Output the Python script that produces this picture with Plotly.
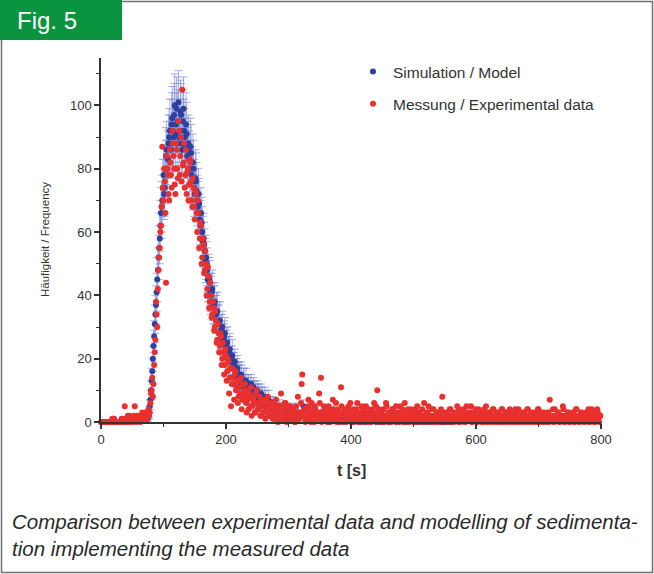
import plotly.graph_objects as go

# ---------------- data ----------------
# Experimental data (red): even-second samples, split into segments
red_t_start = [0, 72, 152, 302, 552]
red_a = [0, 0, 0, 0, 0, 0, 0, 0, 0, 1, 1, 0, 0, 0, 0, 0, 0, 1, 0, 5,
         1, 1, 0, 2, 1, 1, 0, 5, 1, 2, 1, 1, 2, 3, 1, 2]
red_b = [2, 1, 4, 3, 9, 14, 12, 22, 38, 30, 48, 55, 62, 87, 70, 76, 44, 80, 72, 86,
         78, 92, 84, 75, 88, 80, 95, 78, 90, 105, 82, 74, 86, 79, 70, 83, 76, 68, 74, 64]
red_c = [72, 60, 66, 58, 62, 52, 56, 48, 50, 42, 46, 38, 40, 34, 36, 30, 32, 26, 28, 24,
         27, 20, 22, 18, 21, 16, 19, 14, 5, 17, 12, 15, 10, 13, 8, 11, 14, 7, 9, 12,
         6, 10, 4, 8, 11, 5, 7, 3, 9, 6, 4, 8, 2, 6, 5, 3, 7, 4, 2, 6,
         3, 5, 1, 4, 7, 2, 5, 3, 9, 2, 4, 6, 1, 3, 5]
red_d = [3, 1, 4, 2, 0, 5, 2, 3, 1, 6, 15, 2, 4, 1, 3, 7, 2, 0, 4, 2,
         5, 1, 3, 2, 6, 14, 1, 3, 4, 2, 0, 5, 2, 3, 1, 4, 2, 6, 1, 3,
         2, 11, 0, 3, 4, 1, 2, 5, 3, 0, 2, 4, 1, 3, 6, 2, 0, 3, 1, 4,
         2, 5, 1, 3, 0, 2, 4, 1, 3, 5, 10, 2, 0, 3, 1, 4, 2, 6, 1, 3,
         0, 2, 4, 1, 3, 5, 2, 0, 3, 1, 4, 2, 6, 0, 3, 1, 2, 4, 1, 3,
         0, 2, 5, 1, 3, 2, 4, 0, 2, 1, 3, 5, 1, 2, 0, 4, 2, 1, 3, 0,
         2, 4, 8, 1, 3]
red_e = [0, 2, 1, 4, 2, 0, 3, 1, 2, 5, 0, 2, 3, 1, 4, 0, 2, 1, 3, 2,
         5, 0, 1, 3, 2, 0, 4, 1, 2, 3, 0, 1, 5, 2, 0, 3, 1, 2, 4, 0,
         2, 1, 3, 0, 2, 4, 1, 0, 3, 2, 1, 4, 0, 2, 1, 3, 0, 2, 4, 1,
         0, 2, 3, 1, 0, 4, 2, 1, 3, 0, 2, 1, 3, 0, 4, 1, 2, 0, 3, 1,
         2, 0, 3, 7, 1, 2, 0, 4, 1, 2, 3, 0, 1, 2, 4, 0, 2, 1, 3, 0,
         2, 1, 3, 0, 4, 1, 2, 0, 3, 1, 2, 0, 3, 1, 4, 0, 2, 1, 3, 0,
         2, 4, 1, 2]
# Experimental data (red): odd-second samples
red_odd_t_start = [1, 73, 153, 301, 551]
red_odd_a = [0, 0, 0, 0, 0, 0, 0, 0, 0, 0, 1, 0, 0, 0, 0, 0, 1, 0, 0, 1,
             0, 2, 1, 0, 1, 1, 2, 1, 0, 1, 2, 0, 1, 1, 2, 3]
red_odd_b = [1, 3, 2, 6, 10, 8, 18, 26, 34, 42, 52, 60, 68, 74, 80, 66, 84, 78, 70, 82,
             74, 88, 80, 72, 86, 77, 92, 84, 76, 81, 88, 78, 72, 80, 75, 82, 70, 77, 68, 73]
red_odd_c = [66, 70, 55, 63, 50, 58, 47, 54, 40, 49, 36, 44, 33, 38, 29, 35, 25, 31, 22, 28,
             18, 25, 15, 23, 13, 20, 9, 17, 12, 14, 7, 16, 11, 6, 13, 9, 4, 12, 8, 10,
             3, 7, 9, 5, 2, 8, 6, 3, 10, 4, 5, 2, 7, 3, 6, 1, 4, 8, 2, 5,
             3, 1, 6, 2, 4, 0, 3, 5, 1, 4, 2, 6, 0, 3]
red_odd_d = [2, 5, 1, 3, 4, 0, 2, 8, 1, 3, 12, 2, 4, 0, 3, 5, 1, 2, 6, 3,
             0, 4, 2, 1, 9, 3, 0, 2, 5, 1, 3, 2, 4, 0, 1, 7, 2, 3, 0, 4,
             1, 2, 5, 3, 0, 2, 1, 4, 2, 6, 0, 3, 1, 2, 4, 0, 3, 1, 5, 2,
             0, 3, 1, 4, 2, 0, 1, 3, 6, 2, 1, 0, 4, 2, 3, 1, 0, 2, 5, 1,
             3, 0, 2, 4, 1, 2, 0, 3, 1, 5, 2, 0, 1, 3, 2, 4, 0, 1, 3, 2,
             0, 4, 1, 2, 3, 0, 2, 1, 6, 0, 3, 1, 2, 0, 4, 1, 2, 0, 3, 1,
             2, 0, 3, 1, 2]
red_odd_e = [1, 3, 0, 2, 4, 1, 2, 0, 3, 1, 2, 4, 0, 1, 3, 2, 0, 5, 1, 2,
             3, 0, 1, 2, 4, 0, 2, 1, 3, 0, 2, 4, 1, 0, 3, 2, 1, 0, 4, 2,
             1, 3, 0, 2, 1, 4, 0, 2, 3, 1, 0, 2, 1, 3, 0, 2, 4, 1, 0, 3,
             2, 1, 0, 3, 2, 1, 4, 0, 2, 1, 3, 0, 2, 1, 4, 0, 2, 3, 1, 0,
             2, 1, 3, 0, 2, 1, 4, 0, 2, 1, 3, 0, 1, 2, 5, 0, 2, 1, 3, 0,
             2, 1, 3, 0, 2, 4, 1, 0, 2, 3, 1, 0, 2, 1, 3, 0, 2, 4, 1, 0,
             2, 1, 3, 0, 2]
red_segments = [red_a, red_b, red_c, red_d, red_e]
red_odd_segments = [red_odd_a, red_odd_b, red_odd_c, red_odd_d, red_odd_e]
red_step = 2

# Simulation / model (blue) with error bars
blue_t_start = [74, 152, 304, 75, 153]
blue_step = [2, 2, 4, 2, 2]
blue_a = [1, 2, 5, 10, 16, 24, 31, 37, 45, 52, 58, 66, 70, 78, 74, 84, 80, 88, 92, 86,
          96, 90, 100, 94, 88, 101, 92, 97, 86, 99, 90, 94, 84, 88, 80, 85, 76, 80, 72]
blue_a_err = [1, 1, 2, 3, 4, 5, 6, 6, 7, 7, 8, 8, 8, 9, 9, 9, 9, 9, 10, 9,
              10, 9, 10, 10, 9, 10, 10, 10, 9, 10, 9, 10, 9, 9, 9, 9, 9, 9, 8]
blue_b = [76, 70, 72, 64, 66, 60, 58, 54, 52, 48, 46, 44, 40, 42, 37, 38, 34, 35, 31, 32,
          29, 30, 26, 28, 24, 25, 22, 23, 20, 21, 18, 19, 16, 17, 15, 14, 15, 12, 13, 12,
          13, 11, 12, 10, 12, 9, 11, 10, 8, 10, 9, 7, 9, 8, 6, 8, 7, 5, 7, 6,
          4, 6, 5, 3, 5, 4, 3, 5, 2, 4, 3, 2, 4, 1, 3]
blue_b_err = [9, 8, 8, 8, 8, 8, 8, 7, 7, 7, 7, 7, 6, 6, 6, 6, 6, 6, 6, 6,
              5, 5, 5, 5, 5, 5, 5, 5, 4, 5, 4, 4, 4, 4, 4, 4, 4, 3, 4, 3,
              4, 3, 3, 3, 3, 3, 3, 3, 3, 3, 3, 3, 3, 3, 2, 3, 3, 2, 3, 2,
              2, 2, 2, 2, 2, 2, 2, 2, 1, 2, 2, 1, 2, 1, 2]
blue_c = [2, 4, 1, 3, 2, 5, 1, 3, 2, 4, 1, 2, 3, 1, 2, 0, 3, 1, 2, 0,
          1, 2, 0, 1, 1, 0, 2, 1, 0, 1, 0, 1, 0, 2, 0, 1, 0, 0, 1, 0,
          0, 1, 0, 0, 1, 0, 0, 0, 1, 0, 0, 0, 1, 0, 0, 0, 0, 1, 0, 0,
          0, 0, 0, 0, 0]
blue_c_err = [1, 2, 1, 2, 1, 2, 1, 2, 1, 2, 1, 1, 2, 1, 1, 0, 2, 1, 1, 0,
              1, 1, 0, 1, 1, 0, 1, 1, 0, 1, 0, 1, 0, 1, 0, 1, 0, 0, 1, 0,
              0, 1, 0, 0, 1, 0, 0, 0, 1, 0, 0, 0, 1, 0, 0, 0, 0, 1, 0, 0,
              0, 0, 0, 0, 0]
blue_odd_a = [1, 3, 7, 13, 20, 27, 34, 41, 48, 55, 62, 68, 74, 72, 80, 86, 83, 90, 88, 94,
              92, 97, 91, 99, 95, 90, 98, 88, 95, 92, 87, 91, 86, 83, 87, 78, 82, 74, 77]
blue_odd_a_err = [1, 2, 3, 4, 4, 5, 6, 6, 7, 7, 8, 8, 9, 8, 9, 9, 9, 9, 9, 10,
                  10, 10, 10, 10, 10, 9, 10, 9, 10, 10, 9, 10, 9, 9, 9, 9, 9, 9, 9]
blue_odd_b = [73, 68, 69, 62, 63, 57, 56, 51, 50, 45, 45, 41, 41, 38, 37, 34, 35, 31, 32, 28,
              29, 26, 27, 24, 25, 21, 22, 19, 20, 17, 18, 15, 16, 14, 15, 12, 14, 11, 13, 12,
              10, 12, 9, 11, 10, 8, 10, 9, 7, 9, 8, 6, 8, 7, 5, 7, 6, 4, 6, 5,
              3, 5, 4, 2, 4, 3, 2, 4, 3, 1, 3, 2, 1, 3, 2]
blue_odd_b_err = [9, 8, 8, 8, 8, 8, 7, 7, 7, 7, 7, 6, 6, 6, 6, 6, 6, 6, 6, 5,
                  5, 5, 5, 5, 5, 5, 5, 4, 4, 4, 4, 4, 4, 4, 4, 3, 4, 3, 4, 3,
                  3, 3, 3, 3, 3, 3, 3, 3, 3, 3, 3, 2, 3, 3, 2, 3, 2, 2, 2, 2,
                  2, 2, 2, 1, 2, 2, 1, 2, 2, 1, 2, 1, 1, 2, 1]
blue_segments = [blue_a, blue_b, blue_c, blue_odd_a, blue_odd_b]
blue_err_segments = [blue_a_err, blue_b_err, blue_c_err, blue_odd_a_err, blue_odd_b_err]

x_ticks = [0, 200, 400, 600, 800]
y_ticks = [0, 20, 40, 60, 80, 100]
series_names = ["Simulation / Model", "Messung / Experimental data"]
caption_lines = ["Comparison between experimental data and modelling of sedimenta-",
                 "tion implementing the measured data"]
fig_label = "Fig. 5"

# ---------------- build series ----------------
red_t, red_y = [], []
for starts, segs in ((red_t_start, red_segments), (red_odd_t_start, red_odd_segments)):
    for start, seg in zip(starts, segs):
        red_t += [start + red_step * i for i in range(len(seg))]
        red_y += seg

blue_t, blue_y, blue_e = [], [], []
for start, step, seg, err in zip(blue_t_start, blue_step, blue_segments, blue_err_segments):
    blue_t += [start + step * i for i in range(len(seg))]
    blue_y += seg
    blue_e += err

BLUE = "#2d3fa0"
RED = "#e8312f"
ERR = "rgba(130,140,212,0.7)"
AX = "#333333"

fig = go.Figure()
fig.add_trace(go.Scatter(
    x=blue_t, y=blue_y, mode="markers", name=series_names[0],
    marker=dict(color=BLUE, size=6),
    error_y=dict(type="data", array=blue_e, visible=True, color=ERR, thickness=1, width=4),
    cliponaxis=False, legendgroup="a"))
fig.add_trace(go.Scatter(
    x=red_t, y=red_y, mode="markers", name=series_names[1],
    marker=dict(color=RED, size=6),
    cliponaxis=False, legendgroup="b"))

L, R, T, B = 101, 53, 58, 152
W, H = 654, 574
PW, PH = W - L - R, H - T - B


def px(xp):
    return (xp - L) / PW


def py(yp):
    return (H - B - yp) / PH


tickfont = dict(family="Liberation Sans, Arial, sans-serif", size=13, color=AX)
fig.update_layout(
    width=W, height=H,
    margin=dict(l=L, r=R, t=T, b=B),
    paper_bgcolor="white", plot_bgcolor="white",
    showlegend=True,
    legend=dict(x=px(353), y=py(55), xanchor="left", yanchor="top",
                font=dict(family="Liberation Sans, Arial, sans-serif", size=15.5, color=AX),
                bgcolor="rgba(0,0,0,0)", tracegroupgap=9, itemsizing="trace"),
    xaxis=dict(range=[0, 800], tickvals=x_ticks, showgrid=False, zeroline=False,
               showline=True, linecolor=AX, linewidth=1.5, ticks="outside",
               ticklen=5, tickwidth=1.5, tickcolor=AX, tickfont=tickfont,
               minor=dict(dtick=100, ticks="outside", ticklen=3, tickcolor=AX, tickwidth=1.2)),
    yaxis=dict(range=[0, 115], tickvals=y_ticks, showgrid=False, zeroline=False,
               showline=True, linecolor=AX, linewidth=1.5, ticks="outside",
               ticklen=5, tickwidth=1.5, tickcolor=AX, tickfont=tickfont,
               minor=dict(tickvals=[10, 30, 50, 70, 90, 110], ticks="outside", ticklen=3,
                          tickcolor=AX, tickwidth=1.2)),
    shapes=[
        dict(type="rect", xref="paper", yref="paper",
             x0=px(1.5), x1=px(652.5), y0=py(572.5), y1=py(1.5),
             line=dict(color="#707070", width=1.5), fillcolor="rgba(0,0,0,0)", layer="below"),
        dict(type="rect", xref="paper", yref="paper",
             x0=px(0), x1=px(122), y0=py(40), y1=py(0),
             line=dict(width=0), fillcolor="#0a9440", layer="above"),
    ],
    annotations=[
        dict(text=fig_label, xref="paper", yref="paper", x=px(15), y=py(21),
             xanchor="left", yanchor="middle", showarrow=False,
             font=dict(family="Liberation Sans, Arial", size=24, color="white")),
        dict(text="Häufigkeit / Frequency", xref="paper", yref="paper", x=px(45), y=py(240),
             xanchor="center", yanchor="middle", textangle=-90, showarrow=False,
             font=dict(family="Liberation Sans, Arial, sans-serif", size=11.5, color=AX)),
        dict(text="<b>t [s]</b>", xref="paper", yref="paper", x=px(351), y=py(470),
             xanchor="center", yanchor="middle", showarrow=False,
             font=dict(family="Liberation Sans, Arial, sans-serif", size=16, color=AX)),
        dict(text="<i>" + caption_lines[0] + "</i>", xref="paper", yref="paper", x=px(10), y=py(521),
             xanchor="left", yanchor="middle", showarrow=False,
             font=dict(family="Liberation Sans, Arial", size=20.5, color="#2a2a2a")),
        dict(text="<i>" + caption_lines[1] + "</i>", xref="paper", yref="paper", x=px(10), y=py(548),
             xanchor="left", yanchor="middle", showarrow=False,
             font=dict(family="Liberation Sans, Arial", size=20.5, color="#2a2a2a")),
    ],
)

fig.write_html("out.html")
